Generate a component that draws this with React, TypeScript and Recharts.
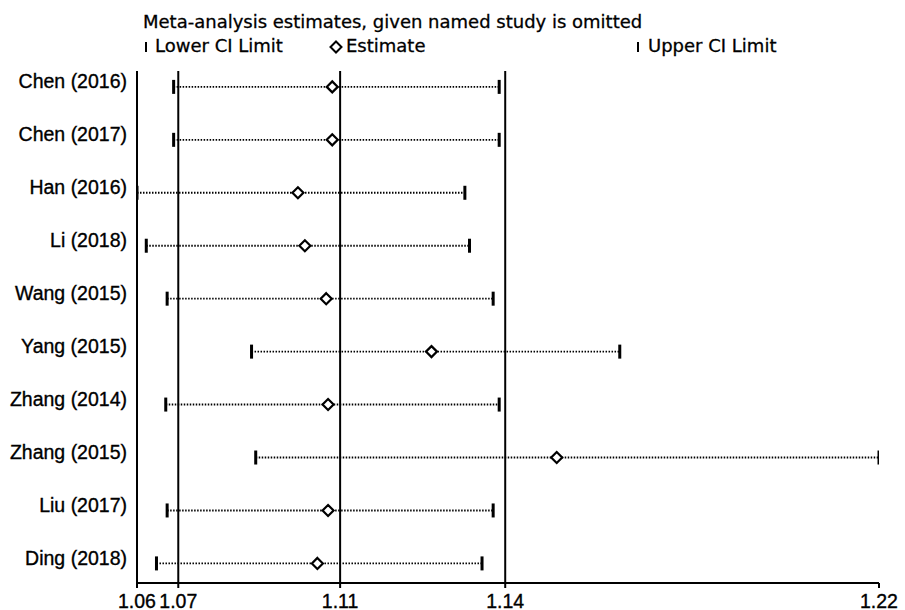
import { ScatterChart, Scatter, XAxis, YAxis, ReferenceLine } from 'recharts'

const studies = [
  'Chen (2016)',
  'Chen (2017)',
  'Han (2016)',
  'Li (2018)',
  'Wang (2015)',
  'Yang (2015)',
  'Zhang (2014)',
  'Zhang (2015)',
  'Liu  (2017)',
  'Ding (2018)',
]
const lower = [1.071, 1.071, 1.0631, 1.0651, 1.0696, 1.0878, 1.0693, 1.0887, 1.0696, 1.0673]
const estimate = [1.1052, 1.1052, 1.0978, 1.0993, 1.1039, 1.1266, 1.1043, 1.1536, 1.1043, 1.102]
const upper = [1.1412, 1.1412, 1.1338, 1.1348, 1.1399, 1.1672, 1.1412, 1.2231, 1.1399, 1.1375]

// pooled estimate and its CI (the three vertical lines)
const pooled = [1.072, 1.1069, 1.1425]

const xTicks = [1.0631, 1.072, 1.1069, 1.1425, 1.2231]
const xTickLabels = ['1.06', '1.07', '1.11', '1.14', '1.22']

const rows = studies.map((s, i) => ({ y: i + 1, lo: lower[i], est: estimate[i], hi: upper[i] }))
const loPts = rows.map(r => ({ x: r.lo, y: r.y }))
const estPts = rows.map(r => ({ x: r.est, y: r.y }))
const hiPts = rows.map(r => ({ x: r.hi, y: r.y }))

const arial = '"Liberation Sans", Arial, sans-serif'
const dejavu = '"DejaVu Sans", Verdana, sans-serif'

const CapShape = (props: any) => {
  const { cx, cy } = props
  return <rect x={cx - 1.5} y={cy - 7} width={3} height={14} fill="#000" />
}

const DiamondShape = (props: any) => {
  const { cx, cy } = props
  const r = 5.5
  return (
    <polygon
      points={`${cx},${cy - r} ${cx + r},${cy} ${cx},${cy + r} ${cx - r},${cy}`}
      fill="#fff"
      stroke="#000"
      strokeWidth={2.2}
    />
  )
}

const YTick = (props: any) => {
  const { x, y, payload } = props
  return (
    <text x={x} y={y} dy={1.5} textAnchor="end" fontFamily={arial} fontSize={19.5} fill="#000" stroke="#000" strokeWidth={0.35}>
      {studies[payload.value - 1]}
    </text>
  )
}

const XTick = (props: any) => {
  const { x, y, payload, index } = props
  return (
    <text x={x} y={y} dy={17.5} textAnchor="middle" fontFamily={arial} fontSize={19.5} fill="#000" stroke="#000" strokeWidth={0.35}>
      {xTickLabels[index] ?? payload.value}
    </text>
  )
}

const textStyle = {
  position: 'absolute' as const,
  fontFamily: dejavu,
  fontSize: 18,
  lineHeight: '18px',
  whiteSpace: 'nowrap' as const,
  color: '#000',
  WebkitTextStroke: '0.3px #000',
}

function LegendBar({ left }: { left: number }) {
  return <div style={{ position: 'absolute', left, top: 42, width: 2.6, height: 10, background: '#000' }} />
}

export default function App() {
  return (
    <div style={{ position: 'absolute', left: 0, top: 0, width: 905, height: 610, background: '#fff', overflow: 'hidden' }}>
      <div style={{ ...textStyle, left: 143, top: 13 }}>
        Meta-analysis estimates, given named study is omitted
      </div>
      <LegendBar left={144.5} />
      <div style={{ ...textStyle, left: 155, top: 37 }}>Lower CI Limit</div>
      <svg style={{ position: 'absolute', left: 329, top: 40 }} width={14} height={14}>
        <polygon points="7,1.5 12.5,7 7,12.5 1.5,7" fill="#fff" stroke="#000" strokeWidth={2} />
      </svg>
      <div style={{ ...textStyle, left: 346, top: 37 }}>Estimate</div>
      <LegendBar left={636.5} />
      <div style={{ ...textStyle, left: 648, top: 37 }}>Upper CI Limit</div>

      <div style={{ position: 'absolute', left: 0, top: 0 }}>
        <ScatterChart width={905} height={610} margin={{ top: 71, right: 26, left: 0, bottom: 0 }}>
          <XAxis
            type="number"
            dataKey="x"
            domain={[xTicks[0], xTicks[xTicks.length - 1]]}
            ticks={xTicks}
            interval={0}
            height={27}
            axisLine={{ stroke: '#000', strokeWidth: 2 }}
            tickLine={{ stroke: '#000', strokeWidth: 2 }}
            tickSize={5}
            tickMargin={2}
            tick={<XTick />}
            allowDataOverflow
          />
          <YAxis
            type="number"
            dataKey="y"
            domain={[0.7, 10.37]}
            reversed
            ticks={rows.map(r => r.y)}
            interval={0}
            width={137}
            axisLine={{ stroke: '#000', strokeWidth: 2 }}
            tickLine={false}
            tickSize={0}
            tickMargin={10}
            tick={<YTick />}
            allowDataOverflow
          />
          {pooled.map(v => (
            <ReferenceLine key={v} x={v} stroke="#000" strokeWidth={2} />
          ))}
          {rows.map(r => (
            <ReferenceLine
              key={r.y}
              segment={[{ x: r.lo, y: r.y }, { x: r.hi, y: r.y }]}
              stroke="#000"
              strokeWidth={1.9}
              strokeDasharray="1.5 1.5"
            />
          ))}
          <Scatter data={loPts} shape={<CapShape />} isAnimationActive={false} />
          <Scatter data={hiPts} shape={<CapShape />} isAnimationActive={false} />
          <Scatter data={estPts} shape={<DiamondShape />} isAnimationActive={false} />
        </ScatterChart>
      </div>
    </div>
  )
}
